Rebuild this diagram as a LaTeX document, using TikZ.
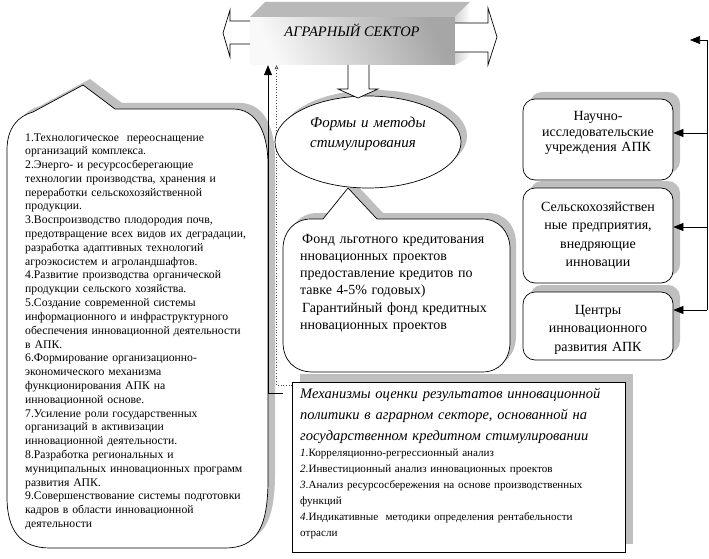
\documentclass[tikz,border=0pt]{standalone}
\usepackage{fontspec}
\setmainfont{Liberation Serif}
\usetikzlibrary{shapes.geometric,arrows.meta,calc}
\begin{document}
\begin{tikzpicture}[x=1pt,y=-1pt,
  outline/.style={draw=black,line width=0.7pt,fill=white},
  shadowed/.style={preaction={fill=gray!50,draw=none,transform canvas={xshift=#1,yshift=#1}}},
  arrowtip/.style={line width=0.7pt,-{Triangle[length=10pt,width=8pt]}},
  blockarrow/.style={draw=black,line width=0.7pt,fill=white},
  rbox/.style={draw=black,line width=0.7pt,fill=white,rounded corners=12pt,minimum width=150pt,inner sep=0pt,shadowed=7pt},
  rtext/.style={inner sep=0pt,anchor=base,align=center,text width=150pt},
  lefttext/.style={inner sep=0pt,anchor=base west,align=left,text width=250pt,font=\fontsize{11.7}{13.8}\selectfont},
  fondtext/.style={inner sep=0pt,anchor=base west,align=left,text width=220pt,font=\fontsize{14}{17.3}\selectfont},
  italtext/.style={inner sep=0pt,anchor=base west,align=left,text width=160pt,font=\itshape\fontsize{15}{20}\selectfont},
  leftshape/.style={insert path={(7,150) .. controls (7,128) and (18,116) .. (33,112) -- (83,85) -- (115,109) -- (233,109) .. controls (255,109) and (268,130) .. (268,165) -- (268,480) .. controls (268,530) and (255,548) .. (225,548) -- (50,548) .. controls (20,548) and (7,530) .. (7,497) -- cycle}},
  fondshape/.style={insert path={(283,249) .. controls (283,232) and (294,219) .. (311,219) -- (323,219) -- (348,188) -- (377,219) -- (482,219) .. controls (499,219) and (510,232) .. (510,249) -- (510,342) .. controls (510,360) and (499,372) .. (482,372) -- (313,372) .. controls (294,372) and (283,360) .. (283,342) -- cycle}}
]
\useasboundingbox (0,0) rectangle (709,559);

% ---- top 3D box ----
\shade[top color=gray!70,bottom color=gray!5,shading angle=-65] (250,17) rectangle (455,65);
\fill[gray!55] (250,17) -- (265,2) -- (470,2) -- (455,17) -- cycle;
\shade[left color=gray!35,right color=white] (455,17) -- (470,2) -- (470,57) -- (455,65) -- cycle;
\node[inner sep=0pt,minimum width=205pt,minimum height=48pt] (sector) at (352.5,41) {};
\node[inner sep=0pt,anchor=base,font=\itshape\fontsize{14.5}{16}\selectfont] (sectortext) at (352,37) {АГРАРНЫЙ СЕКТОР};

% side block arrows
\draw[blockarrow] (250,21) -- (230,21) -- (230,10) -- (223,33) -- (230,57) -- (230,44) -- (250,44);
\draw[blockarrow] (455,23) -- (488,23) -- (488,8) -- (497,37) -- (488,65) -- (488,52) -- (455,52);

% ---- bottom box ----
\node[draw=black,line width=0.7pt,fill=white,shadowed=8pt,minimum width=333pt,minimum height=170pt,inner sep=0pt] (eval) at (458.5,467) {};

% dotted connector
\coordinate (dotStart) at (292,385);
\coordinate (dotTurn) at (276.5,385);
\draw[dotted,gray!60!black,line width=0.7pt,-{Triangle[open,length=4pt,width=4pt]}] (dotStart) -- (dotTurn) -- (dotTurn |- sector.south);

% ---- left callout ----
\path[fill=gray!50,transform canvas={xshift=7pt,yshift=6pt},leftshape];
\path[outline,leftshape];
\node[lefttext] (goals) at (25,141) {1.Технологическое\ \ переоснащение\\
организаций комплекса.\\
2.Энерго- и ресурсосберегающие\\
технологии производства, хранения и\\
переработки сельскохозяйственной\\
продукции.\\
3.Воспроизводство плодородия почв,\\
предотвращение всех видов их деградации,\\
разработка адаптивных технологий\\
агроэкосистем и агроландшафтов.\\
4.Развитие производства органической\\
продукции сельского хозяйства.\\
5.Создание современной системы\\
информационного и инфраструктурного\\
обеспечения инновационной деятельности\\
в АПК.\\
6.Формирование организационно-\\
экономического механизма\\
функционирования АПК на\\
инновационной основе.\\
7.Усиление роли государственных\\
организаций в активизации\\
инновационной деятельности.\\
8.Разработка региональных и\\
муниципальных инновационных программ\\
развития АПК.\\
9.Совершенствование системы подготовки\\
кадров в области инновационной\\
деятельности};

% ---- Fond callout ----
\path[fill=gray!50,transform canvas={xshift=6pt,yshift=6pt},fondshape];
\path[outline,fondshape];
\node[fondtext] (fond) at (300,243) {\hspace{2pt}Фонд льготного кредитования\\
нновационных проектов\\
предоставление кредитов по\\
тавке 4-5\% годовых)\\
\hspace{2pt}Гарантийный фонд кредитных\\
нновационных проектов};

% ---- ellipse ----
\node[ellipse,draw=black,line width=0.7pt,fill=white,shadowed=6pt,minimum width=186pt,minimum height=92pt,inner sep=0pt] (forms) at (368,142) {};
\node[italtext] (formstext) at (310,128) {Формы и методы\\стимулирования};

% down block arrow
\draw[blockarrow] (348,65) -- (348,89) -- (338,89) -- (358,98) -- (378,89) -- (369,89) -- (369,65);

% ---- right boxes ----
\node[rbox,minimum height=81pt] (nii) at (598,139.5) {};
\node[rbox,minimum height=95pt] (farms) at (598,235.5) {};
\node[rbox,minimum height=68pt] (centers) at (598,326) {};
\node[rtext,font=\fontsize{14}{15.5}\selectfont] (niitext) at (598,121) {Научно-\\исследовательские\\учреждения АПК};
\node[rtext,font=\fontsize{14}{18.5}\selectfont] (farmstext) at (598,211) {Сельскохозяйствен\\ные предприятия,\\внедряющие\\инновации};
\node[rtext,font=\fontsize{14}{18.5}\selectfont] (centerstext) at (598,314) {Центры\\инновационного\\развития АПК};

% right connectors
\coordinate (spTop) at (707,40);
\coordinate (spBot) at (707,310);
\coordinate (outTop) at (690,40);
\coordinate (s1) at (707,133);
\coordinate (s2) at (707,227);
\draw[line width=0.7pt] (spTop) -- (spBot);
\draw[arrowtip] (spTop) -- (outTop);
\draw[arrowtip] (s1) -- (s1 -| nii.east);
\draw[arrowtip] (s2) -- (s2 -| farms.east);
\draw[arrowtip] (spBot) -- (spBot -| centers.east);

% bottom box texts
\node[inner sep=0pt,anchor=base west,align=left,text width=320pt,font=\itshape\fontsize{14.5}{21}\selectfont] (evalhead) at (300,398) {Механизмы оценки результатов инновационной\\
политики в аграрном секторе, основанной на\\
государственном кредитном стимулировании};
\node[inner sep=0pt,anchor=base west,align=left,text width=320pt,font=\fontsize{11.1}{16}\selectfont] (evallist) at (300,456) {\textit{1.}Корреляционно-регрессионный анализ\\
\textit{2.}Инвестиционный анализ инновационных проектов\\
\textit{3.}Анализ ресурсосбережения на основе производственных\\
функций\\
\textit{4.}Индикативные\ \ методики определения рентабельности\\
отрасли};

% solid connector
\coordinate (solidStart) at (283,393);
\coordinate (solidTurn) at (268,393);
\draw[arrowtip] (solidStart) -- (solidTurn) -- (solidTurn |- sector.south);
\end{tikzpicture}
\end{document}
